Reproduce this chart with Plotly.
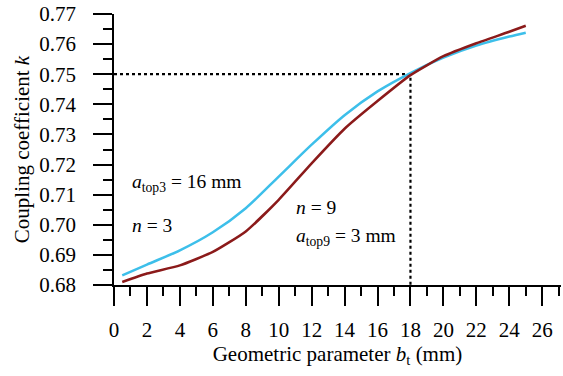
import plotly.graph_objects as go

# Data
bt = [0.5, 2, 4, 6, 8, 10, 12, 14, 16, 18, 20, 22, 24, 25]
k_n3 = [0.6832, 0.6868, 0.6915, 0.6975, 0.7055, 0.7160, 0.7266, 0.7364, 0.7443,
        0.7504, 0.7555, 0.7595, 0.7625, 0.7638]
k_n9 = [0.6810, 0.6838, 0.6865, 0.6910, 0.6978, 0.7083, 0.7204, 0.7319, 0.7411,
        0.7497, 0.7560, 0.7603, 0.7641, 0.7661]

ref_x = [0, 18, 18]
ref_y = [0.75, 0.75, 0.68]

x_range = [0, 27.14]
y_range = [0.68, 0.77]
x_ticks = list(range(0, 27, 2))
y_ticks = [0.68, 0.69, 0.70, 0.71, 0.72, 0.73, 0.74, 0.75, 0.76, 0.77]

FONT = "Liberation Serif"
CYAN = "#3DBFEA"
DARKRED = "#8B1A1A"

fig = go.Figure()
fig.add_trace(go.Scatter(x=ref_x, y=ref_y, mode="lines",
                         line=dict(color="black", width=2.2, dash="dot"),
                         showlegend=False, hoverinfo="skip"))
fig.add_trace(go.Scatter(x=bt, y=k_n3, mode="lines",
                         line=dict(color=CYAN, width=2.5, shape="spline", smoothing=0.8),
                         showlegend=False))
fig.add_trace(go.Scatter(x=bt, y=k_n9, mode="lines",
                         line=dict(color=DARKRED, width=2.5, shape="spline", smoothing=0.5),
                         showlegend=False))

annos = [
    (0.95, 0.7139, "<i>a</i><sub>top3</sub> = 16 mm"),
    (0.95, 0.6999, "<i>n</i> = 3"),
    (10.9, 0.7056, "<i>n</i> = 9"),
    (10.9, 0.6959, "<i>a</i><sub>top9</sub> = 3 mm"),
]
for ax_, ay_, txt in annos:
    fig.add_annotation(x=ax_, y=ay_, text=txt, showarrow=False, xanchor="left", yanchor="middle",
                       font=dict(family=FONT, size=19.5, color="black"))

fig.update_layout(
    width=563, height=376,
    margin=dict(l=114, r=2, t=14, b=91),
    paper_bgcolor="white", plot_bgcolor="white",
    font=dict(family=FONT, size=21, color="black"),
)
fig.update_xaxes(
    range=x_range, tickvals=x_ticks, ticktext=[str(v) for v in x_ticks],
    showgrid=False, zeroline=False, showline=True, linecolor="black", linewidth=1.5,
    ticks="outside", ticklen=19, tickwidth=1.5, tickcolor="black",
    minor=dict(ticks="outside", ticklen=9, tickwidth=1.5, tickcolor="black", dtick=1, tick0=0, showgrid=False),
    tickfont=dict(family=FONT, size=21), ticklabelstandoff=6,
    title=dict(text="Geometric parameter <i>b</i><sub>t</sub> (mm)", font=dict(family=FONT, size=21), standoff=2),
)
fig.update_yaxes(
    range=y_range, tickvals=y_ticks, ticktext=[f"{v:.2f}" for v in y_ticks],
    showgrid=False, zeroline=False, showline=True, linecolor="black", linewidth=1.5,
    ticks="outside", ticklen=19, tickwidth=1.5, tickcolor="black",
    minor=dict(ticks="outside", ticklen=9, tickwidth=1.5, tickcolor="black", dtick=0.005, tick0=0.68, showgrid=False),
    tickfont=dict(family=FONT, size=21), ticklabelstandoff=13,
    title=dict(text="Coupling coefficient <i>k</i>", font=dict(family=FONT, size=21), standoff=4),
)

fig.write_html("out.html")
